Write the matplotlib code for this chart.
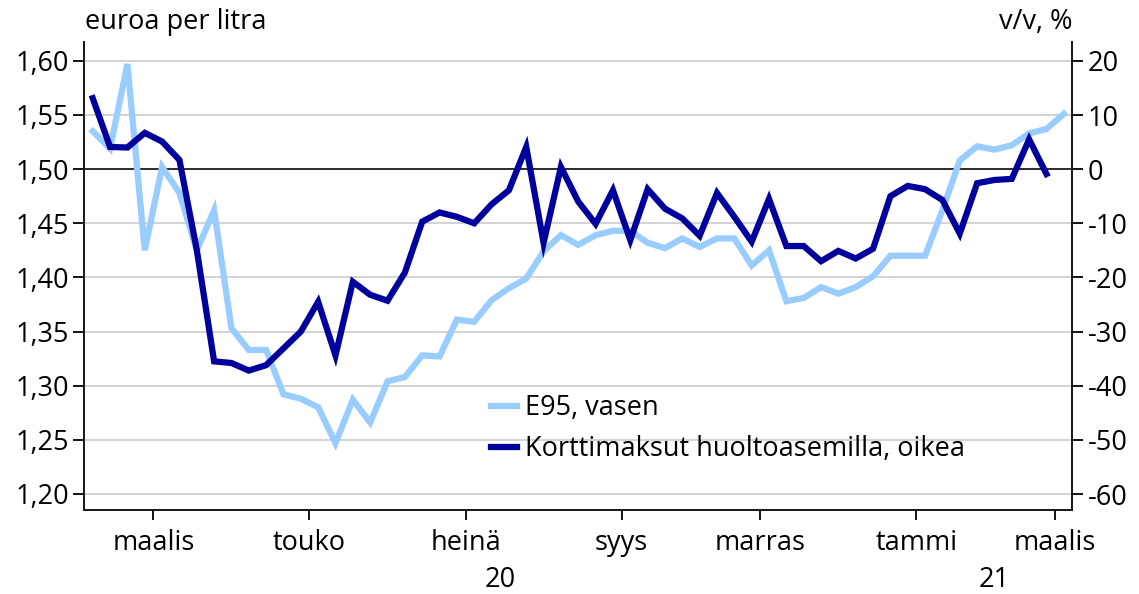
import pandas as pd
import matplotlib.pyplot as plt
from matplotlib.ticker import FuncFormatter

# viikkodata, ensimmäinen viikko alkaa 3.2.2020
viikot = pd.date_range('2020-02-03', periods=57, freq='7D')

# E95 hinta, euroa per litra (vasen akseli)
e95 = [1.535, 1.519, 1.597, 1.425, 1.502, 1.478, 1.425, 1.462, 1.353, 1.333,
       1.333, 1.292, 1.288, 1.280, 1.247, 1.287, 1.266, 1.304, 1.308, 1.328,
       1.327, 1.361, 1.359, 1.379, 1.390, 1.399, 1.424, 1.439, 1.430, 1.439,
       1.443, 1.443, 1.432, 1.427, 1.436, 1.428, 1.436, 1.436, 1.411, 1.425,
       1.378, 1.381, 1.391, 1.385, 1.391, 1.401, 1.420, 1.420, 1.420, 1.462,
       1.508, 1.521, 1.518, 1.522, 1.533, 1.537, 1.551]

# korttimaksut huoltoasemilla, v/v % (oikea akseli)
kortit = [13.1, 4.1, 4.0, 6.7, 5.1, 1.7, -14.9, -35.5, -35.8, -37.2,
          -36.2, -33.1, -30.0, -24.5, -34.4, -20.8, -23.2, -24.3, -19.1, -9.7,
          -8.0, -8.8, -10.0, -6.5, -3.9, 4.1, -13.6, 0.4, -6.0, -10.1,
          -3.9, -13.1, -3.7, -7.3, -9.1, -12.3, -4.4, -8.8, -13.4, -5.5,
          -14.2, -14.2, -17.0, -15.1, -16.5, -14.7, -5.0, -3.1, -3.7, -5.7,
          -11.9, -2.6, -2.0, -1.8, 5.5, -0.9]

kuukaudet = {3: 'maalis', 5: 'touko', 7: 'heinä', 9: 'syys', 11: 'marras', 1: 'tammi'}

vaalea = '#99CCFF'
tumma = '#00009C'
koko = 19.5

plt.rcParams['font.family'] = ['Open Sans', 'DejaVu Sans']
plt.rcParams['font.size'] = koko

fig = plt.figure(figsize=(11.39, 5.94), dpi=100)
ax = fig.add_axes([0.0738, 0.1414, 0.8678, 0.7876])
ax2 = ax.twinx()

x1 = list(range(len(e95)))
x2 = list(range(len(kortit)))
l1, = ax.plot(x1, e95, color=vaalea, lw=4.5, solid_joinstyle='miter', zorder=3)
l2, = ax2.plot(x2, kortit, color=tumma, lw=4.5, solid_joinstyle='miter', zorder=3)

ax.set_xlim(-0.5, len(viikot) - 0.5)
ax.set_ylim(1.1852, 1.6172)
ax2.set_ylim(-62.95, 23.45)

ax.set_yticks([1.20, 1.25, 1.30, 1.35, 1.40, 1.45, 1.50, 1.55, 1.60])
ax.yaxis.set_major_formatter(FuncFormatter(lambda v, p: f"{v:.2f}".replace('.', ',')))
ax2.set_yticks(range(-60, 21, 10))
ax2.yaxis.set_major_formatter(FuncFormatter(lambda v, p: f"{int(v)}"))

# vaakaviivat
for v in [1.20, 1.25, 1.30, 1.35, 1.40, 1.45, 1.55, 1.60]:
    ax.axhline(v, color='#D0D0D0', lw=1.3, zorder=1)
ax.axhline(1.50, color='#1a1a1a', lw=1.3, zorder=2)

# kuukausien tikit viikkojen rajoille
tikit, nimet = [], []
vuosiraja = None
for i in range(1, len(viikot)):
    kk = viikot[i].month
    if kk != viikot[i - 1].month and kk in kuukaudet:
        tikit.append(i - 0.5)
        nimet.append(kuukaudet[kk])
        if kk == 1:
            vuosiraja = i - 0.5
ax.set_xticks(tikit)
ax.set_xticklabels(nimet)
ax.set_xticks([vuosiraja], minor=True)
ax.tick_params(axis='x', which='major', length=7, width=1.3, pad=7, labelsize=koko)
ax.tick_params(axis='x', which='minor', length=15, width=1.3)
ax.tick_params(axis='y', length=8, width=1.3, pad=3, labelsize=koko)
ax2.tick_params(axis='y', length=8, width=1.3, pad=3, labelsize=koko)

for a in (ax, ax2):
    a.spines['top'].set_visible(False)
    for s in ('left', 'right', 'bottom'):
        a.spines[s].set_linewidth(1.3)
        a.spines[s].set_color('#1a1a1a')

# vuodet
trans = ax.get_xaxis_transform()
ax.text((-0.5 + vuosiraja) / 2, -0.15, '20', transform=trans, ha='center', va='center', fontsize=koko)
ax.text((vuosiraja + len(viikot) - 0.5) / 2, -0.15, '21', transform=trans, ha='center', va='center', fontsize=koko)

fig.text(0.0746, 0.963, 'euroa per litra', ha='left', va='center', fontsize=koko)
fig.text(0.9416, 0.963, 'v/v, %', ha='right', va='center', fontsize=koko)

ax2.legend([l1, l2], ['E95, vasen', 'Korttimaksut huoltoasemilla, oikea'],
           loc='upper left', bbox_to_anchor=(0.410, 0.377), bbox_transform=fig.transFigure,
           frameon=False, handlelength=0.95, handletextpad=0.3, labelspacing=0.48, fontsize=koko)

fig.savefig('out.png', dpi=100)
